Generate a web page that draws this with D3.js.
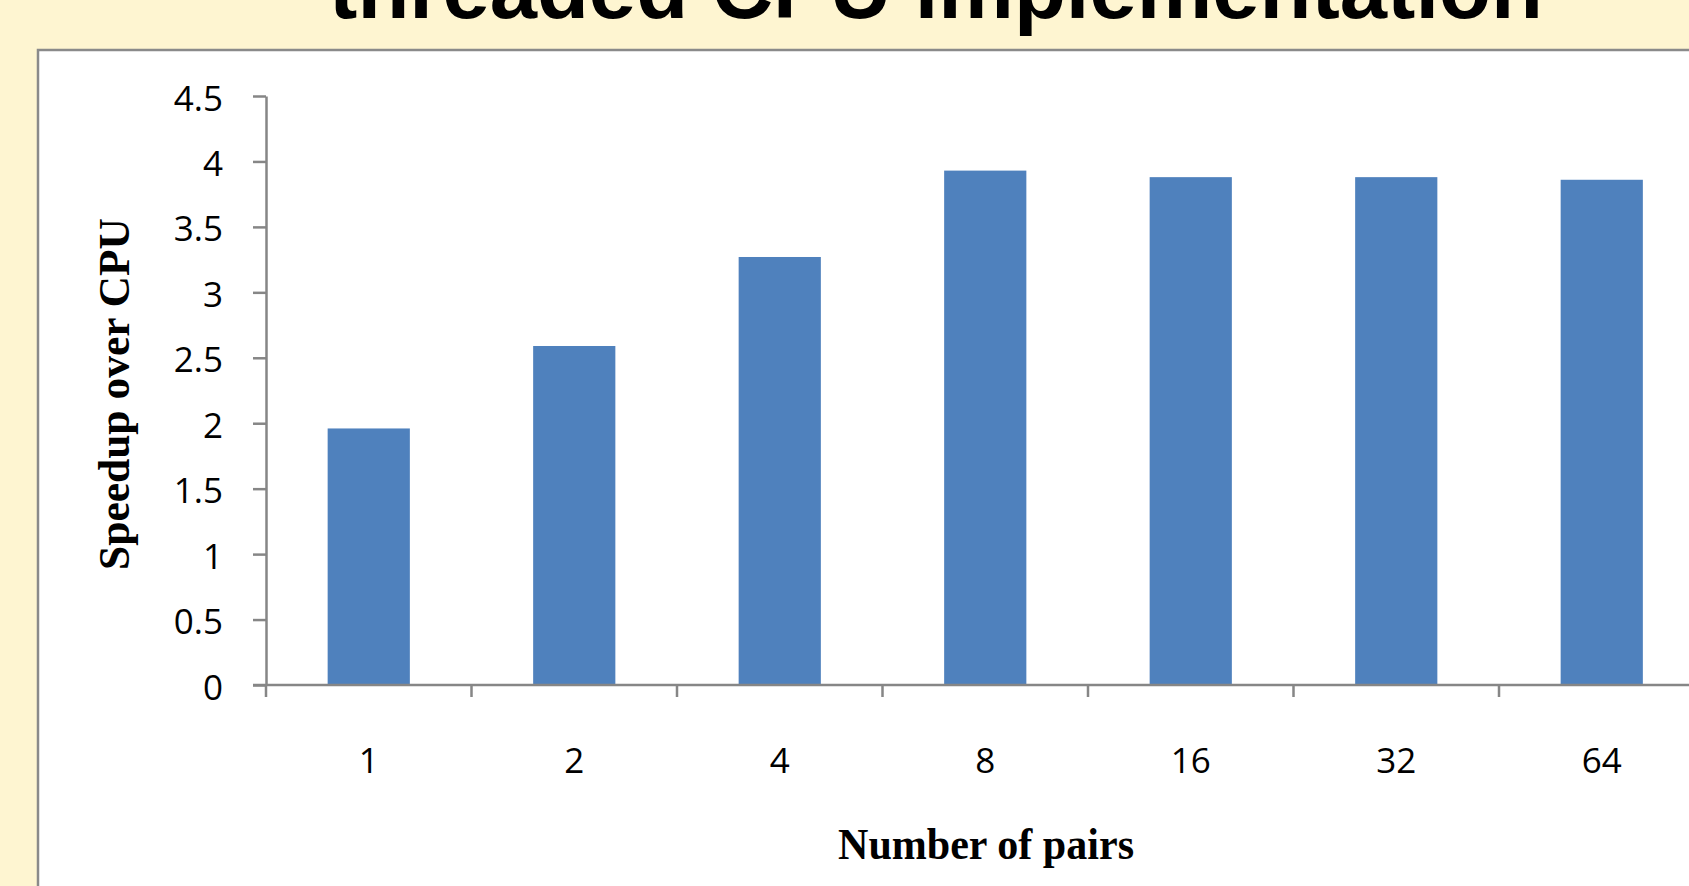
<!DOCTYPE html>
<html>
<head>
<meta charset="utf-8">
<script src="https://cdn.jsdelivr.net/npm/d3@7"></script>
<style>
  html, body { margin: 0; padding: 0; background: #FEF5D1; overflow: hidden; }
  svg { display: block; }
</style>
</head>
<body>
<svg id="chart" width="1689" height="886"></svg>
<script>
// Speedup of the GPU version over the multi-threaded CPU version, per number of pairs
const categories = ["1", "2", "4", "8", "16", "32", "64"];
const speedup = [1.96, 2.59, 3.27, 3.93, 3.88, 3.88, 3.86];
const yTicks = [0, 0.5, 1, 1.5, 2, 2.5, 3, 3.5, 4, 4.5];
const yTickLabels = ["0", "0.5", "1", "1.5", "2", "2.5", "3", "3.5", "4", "4.5"];

const titleText = "threaded CPU implementation";
const xTitle = "Number of pairs";
const yTitle = "Speedup over CPU";

const svg = d3.select("#chart");
const W = 1689, H = 886;

// page background
svg.append("rect").attr("width", W).attr("height", H).attr("fill", "#FEF5D1");

// slide title (upper part runs off the top of the page)
svg.append("text")
  .attr("x", 936).attr("y", 18)
  .attr("text-anchor", "middle")
  .attr("font-family", "'Liberation Sans', Arial, sans-serif")
  .attr("font-weight", "bold")
  .attr("font-size", 85)
  .attr("fill", "#000")
  .text(titleText);

// white chart panel with a grey frame, extending past the right and bottom edges
svg.append("rect")
  .attr("x", 38).attr("y", 50)
  .attr("width", W).attr("height", H)
  .attr("fill", "#ffffff")
  .attr("stroke", "#8a8a8a")
  .attr("stroke-width", 2.5);

const plotLeft = 266, plotRight = 1704.5, plotTop = 96, plotBottom = 685;

// one slot per category; bars occupy the middle 40% of each slot
const slot = d3.scaleBand().domain(categories).range([plotLeft, plotRight]).padding(0);
const y = d3.scaleLinear().domain([0, 4.5]).range([plotBottom, plotTop]);

const axisColor = "#868686";
const tickFont = "'Open Sans', 'Noto Sans', sans-serif";

// bars
svg.append("g").selectAll("rect")
  .data(categories)
  .join("rect")
  .attr("x", (d) => slot(d) + slot.bandwidth() * 0.3)
  .attr("width", slot.bandwidth() * 0.4)
  .attr("y", (d, i) => y(speedup[i]))
  .attr("height", (d, i) => y(0) - y(speedup[i]))
  .attr("fill", "#4F81BD");

// y axis
const yAxis = svg.append("g")
  .attr("transform", `translate(${plotLeft},0)`)
  .call(d3.axisLeft(y)
    .tickValues(yTicks)
    .tickFormat((d, i) => yTickLabels[i])
    .tickSize(13)
    .tickSizeOuter(0)
    .tickPadding(30));
yAxis.select(".domain").attr("stroke", axisColor).attr("stroke-width", 2.5);
yAxis.selectAll(".tick line").attr("stroke", axisColor).attr("stroke-width", 2.5);
yAxis.selectAll(".tick text")
  .attr("font-family", tickFont)
  .attr("font-size", 35)
  .attr("fill", "#000")
  .attr("dy", "0.40em");

// x axis: baseline, category boundary ticks, centred labels
const centre = d3.scaleBand().domain(categories).range([plotLeft, plotRight]).paddingInner(0.6).paddingOuter(0.3);
const xAxis = svg.append("g")
  .attr("transform", `translate(0,${plotBottom})`)
  .call(d3.axisBottom(centre).tickSize(0).tickPadding(63));
xAxis.select(".domain").remove();
xAxis.selectAll(".tick text")
  .attr("font-family", tickFont)
  .attr("font-size", 35)
  .attr("fill", "#000");

svg.append("line")
  .attr("x1", plotLeft - 13).attr("x2", W + 10)
  .attr("y1", plotBottom).attr("y2", plotBottom)
  .attr("stroke", axisColor).attr("stroke-width", 2.5);

const boundaries = categories.map((c) => slot(c)).concat([slot(categories[categories.length - 1]) + slot.bandwidth()]);
svg.append("g").selectAll("line")
  .data(boundaries)
  .join("line")
  .attr("x1", (d) => d).attr("x2", (d) => d)
  .attr("y1", plotBottom).attr("y2", plotBottom + 12)
  .attr("stroke", axisColor).attr("stroke-width", 2.5);

// axis titles
svg.append("text")
  .attr("x", 986).attr("y", 859)
  .attr("text-anchor", "middle")
  .attr("font-family", "'Liberation Serif', 'Times New Roman', serif")
  .attr("font-weight", "bold")
  .attr("font-size", 45)
  .attr("textLength", 296)
  .attr("lengthAdjust", "spacingAndGlyphs")
  .attr("fill", "#000")
  .text(xTitle);

svg.append("text")
  .attr("transform", "translate(129,394) rotate(-90)")
  .attr("text-anchor", "middle")
  .attr("font-family", "'Liberation Serif', 'Times New Roman', serif")
  .attr("font-weight", "bold")
  .attr("font-size", 45)
  .attr("textLength", 352)
  .attr("lengthAdjust", "spacingAndGlyphs")
  .attr("fill", "#000")
  .text(yTitle);
</script>
</body>
</html>
